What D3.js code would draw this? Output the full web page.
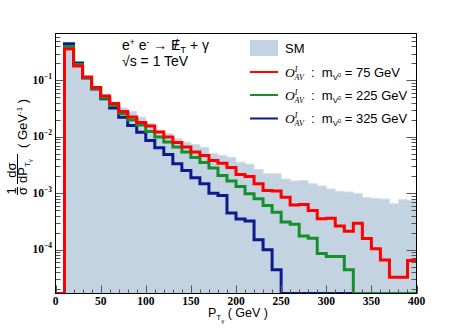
<!DOCTYPE html>
<html>
<head>
<meta charset="utf-8">
<script src="https://cdn.jsdelivr.net/npm/d3@7"></script>
<style>
  body { margin: 0; background: #fff; }
  svg { display: block; }
</style>
</head>
<body>
<div id="chart"></div>
<script>
// bin edges, 10 GeV bins from 0 to 400
const binEdges = d3.range(0, 410, 10);

// 1/sigma dsigma/dPT per bin
const smValues = [0, 0.333, 0.177, 0.118, 0.0783, 0.0565, 0.0416, 0.0325, 0.0282, 0.0223,
  0.0173, 0.0130, 0.0115, 0.00925, 0.00805, 0.00733, 0.00649, 0.00501, 0.00468, 0.00432,
  0.00356, 0.00328, 0.00264, 0.00222, 0.00222, 0.00179, 0.00165, 0.00169, 0.00147, 0.00135,
  0.00119, 0.00108, 0.00105, 0.000991, 0.000832, 0.000809, 0.000792, 0.000652, 0.000767, 0.000745];

const m75Values = [0, 0.362, 0.181, 0.115, 0.0752, 0.0531, 0.0391, 0.0282, 0.0225, 0.0180,
  0.0156, 0.0122, 0.00995, 0.00796, 0.00662, 0.00540, 0.00468, 0.00382, 0.00342, 0.00286,
  0.00215, 0.00199, 0.00147, 0.00112, 0.00110, 0.000853, 0.000621, 0.000633, 0.000495, 0.000353,
  0.000362, 0.000263, 0.000213, 0.000295, 0.000158, 0.000104, 0.0000656, 0.0000325, 0.0000325, 0.0000644];

const m225Values = [0, 0.401, 0.192, 0.113, 0.0721, 0.0490, 0.0361, 0.0260, 0.0200, 0.0163,
  0.0125, 0.00995, 0.00813, 0.00662, 0.00540, 0.00432, 0.00352, 0.00281, 0.00207, 0.00165,
  0.00132, 0.000980, 0.000798, 0.000608, 0.000462, 0.000308, 0.000283, 0.000175, 0.000160, 0.0000857,
  0.0000757, 0.0000757, 0.0000441, 0, 0, 0, 0, 0, 0, 0];

const m325Values = [0, 0.448, 0.203, 0.111, 0.0706, 0.0474, 0.0325, 0.0223, 0.0159, 0.0121,
  0.00863, 0.00641, 0.00488, 0.00333, 0.00254, 0.00188, 0.00147, 0.00100, 0.000914, 0.000448,
  0.000348, 0.000323, 0.000150, 0.0000995, 0.0000441, 0, 0, 0, 0, 0,
  0, 0, 0, 0, 0, 0, 0, 0, 0, 0];

const xTickValues = [0, 50, 100, 150, 200, 250, 300, 350, 400];
const yTickValues = [1e-4, 1e-3, 1e-2, 1e-1];
const yTickExps = ["\u22124", "\u22123", "\u22122", "\u22121"];
const legendMasses = ["75", "225", "325"];

const width = 464, height = 334;
const frame = { left: 55.5, right: 416.5, top: 33.5, bottom: 293.5 };

const colors = { sm: "#c4d3e1", m75: "#ff0000", m225: "#14902a", m325: "#0b1a8e" };
const serif = "'Liberation Serif', 'Times New Roman', serif";
const sans = "'Liberation Sans', Arial, sans-serif";
const nb = "\u00a0";

const x = d3.scaleLinear().domain([0, 400]).range([frame.left, frame.right]);
const y = d3.scaleLog().domain([1.67e-5, 0.68]).range([frame.bottom, frame.top]);
// empty bins sit on the bottom of the frame, as ROOT draws them
const yPos = v => v > 0 ? y(v) : frame.bottom;

const svg = d3.select("#chart").append("svg")
  .attr("width", width)
  .attr("height", height)
  .attr("viewBox", [0, 0, width, height]);

svg.append("defs").append("clipPath").attr("id", "plotClip")
  .append("rect")
  .attr("x", frame.left).attr("y", frame.top)
  .attr("width", frame.right - frame.left)
  .attr("height", frame.bottom - frame.top);

// rich text helper: parts with baseline shift, size, style
function rich(sel, parts) {
  let prev = 0;
  parts.forEach(p => {
    const shift = p.shift || 0;
    const ts = sel.append("tspan")
      .attr("dy", shift - prev)
      .text(p.t);
    if (p.size) ts.attr("font-size", p.size);
    if (p.family) ts.attr("font-family", p.family);
    if (p.style) ts.attr("font-style", p.style);
    if (p.dx) ts.attr("dx", p.dx);
    prev = shift;
  });
  return sel;
}

const steps = vals => {
  const pts = [];
  vals.forEach((v, i) => {
    pts.push([binEdges[i], v]);
    pts.push([binEdges[i + 1], v]);
  });
  return pts;
};

const plot = svg.append("g").attr("clip-path", "url(#plotClip)");

// SM filled histogram
const area = d3.area()
  .x(d => x(d[0]))
  .y0(frame.bottom)
  .y1(d => yPos(d[1]));

plot.append("path")
  .datum(steps(smValues))
  .attr("d", area)
  .attr("fill", colors.sm)
  .attr("stroke", "#d3dee9")
  .attr("stroke-width", 1);

const line = d3.line()
  .x(d => x(d[0]))
  .y(d => yPos(d[1]));

const series = [
  { vals: m325Values, color: colors.m325 },
  { vals: m225Values, color: colors.m225 },
  { vals: m75Values, color: colors.m75 }
];

plot.selectAll("path.hist")
  .data(series)
  .join("path")
  .attr("class", "hist")
  .attr("d", d => line(steps(d.vals)))
  .attr("fill", "none")
  .attr("stroke", d => d.color)
  .attr("stroke-width", 3)
  .attr("stroke-linejoin", "miter");

// ticks
const axes = svg.append("g").attr("stroke", "#555").attr("stroke-width", 1);

const yMinor = [];
for (let e = -5; e <= -1; e++) {
  for (let m = 1; m <= 9; m++) {
    const v = m * Math.pow(10, e);
    if (v >= y.domain()[0] && v <= y.domain()[1]) yMinor.push({ v, major: m === 1 });
  }
}

axes.selectAll("line.yl")
  .data(yMinor)
  .join("line")
  .attr("x1", frame.left)
  .attr("x2", d => frame.left + (d.major ? 10 : 5))
  .attr("y1", d => Math.round(y(d.v)) + 0.5)
  .attr("y2", d => Math.round(y(d.v)) + 0.5);

axes.selectAll("line.yr")
  .data(yMinor)
  .join("line")
  .attr("x1", frame.right)
  .attr("x2", d => frame.right - (d.major ? 10 : 5))
  .attr("y1", d => Math.round(y(d.v)) + 0.5)
  .attr("y2", d => Math.round(y(d.v)) + 0.5);

axes.selectAll("line.xt")
  .data(d3.range(0, 401, 10))
  .join("line")
  .attr("x1", d => Math.round(x(d)) + 0.5)
  .attr("x2", d => Math.round(x(d)) + 0.5)
  .attr("y1", frame.bottom)
  .attr("y2", d => frame.bottom - (d % 50 === 0 ? 8 : 4));

// frame
svg.append("rect")
  .attr("x", frame.left).attr("y", frame.top)
  .attr("width", frame.right - frame.left)
  .attr("height", frame.bottom - frame.top)
  .attr("fill", "none")
  .attr("stroke", "#000")
  .attr("stroke-width", 1);

// x tick labels
svg.append("g")
  .selectAll("text")
  .data(xTickValues)
  .join("text")
  .attr("x", d => x(d))
  .attr("y", 305)
  .attr("text-anchor", "middle")
  .attr("font-family", serif)
  .attr("font-weight", "bold")
  .attr("font-size", 11.5)
  .text(d => d);

// y tick labels
svg.append("g")
  .selectAll("text")
  .data(yTickValues)
  .join("text")
  .attr("x", 52)
  .attr("y", d => y(d) + 3.5)
  .attr("text-anchor", "end")
  .attr("font-family", serif)
  .attr("font-weight", "bold")
  .attr("font-size", 11.5)
  .each(function (d, i) {
    rich(d3.select(this), [
      { t: "10" },
      { t: yTickExps[i], shift: -5, size: 7.5 }
    ]);
  });

// x axis title
rich(svg.append("text")
  .attr("x", 208)
  .attr("y", 317)
  .attr("font-family", sans)
  .attr("font-size", 12.5), [
  { t: "P" },
  { t: "T", shift: 3, size: 8 },
  { t: "\u03b3", shift: 6, size: 6 },
  { t: nb + "(" + nb + "GeV" + nb + ")", shift: 0 }
]);

// y axis title, rotated
const yt = svg.append("g")
  .attr("transform", "translate(0,156) rotate(-90)")
  .attr("font-family", sans)
  .attr("font-size", 13)
  .attr("fill", "#000");

yt.append("text").attr("x", -35).attr("y", 15.5).attr("text-anchor", "middle").text("1");
yt.append("line").attr("x1", -39).attr("x2", -31).attr("y1", 17.5).attr("y2", 17.5)
  .attr("stroke", "#000").attr("stroke-width", 1);
yt.append("text").attr("x", -35).attr("y", 27).attr("text-anchor", "middle").text("\u03c3");

yt.append("text").attr("x", -14).attr("y", 15.5).attr("text-anchor", "middle").text("d\u03c3");
yt.append("line").attr("x1", -28).attr("x2", 2).attr("y1", 17.5).attr("y2", 17.5)
  .attr("stroke", "#000").attr("stroke-width", 1);
rich(yt.append("text").attr("x", -27).attr("y", 27), [
  { t: "dP" },
  { t: "T", shift: 3, size: 8 },
  { t: "\u03b3", shift: 5, size: 6 }
]);

rich(yt.append("text").attr("x", 8).attr("y", 27), [
  { t: "(" + nb + "GeV" },
  { t: "-1", shift: -5, size: 8 },
  { t: nb + ")", shift: 0 }
]);

// process text
const proc = svg.append("g")
  .attr("font-family", sans)
  .attr("font-size", 14);

rich(proc.append("text").attr("x", 122).attr("y", 50), [
  { t: "e" },
  { t: "+", shift: -5, size: 8.5 },
  { t: nb + "e", shift: 0 },
  { t: "-", shift: -5, size: 8.5 },
  { t: nb + "\u2192" + nb + "E", shift: 0 },
  { t: "/", shift: 0, dx: -6.5 },
  { t: "T", shift: 3, size: 9.5, dx: 2.5 },
  { t: nb + "+" + nb + "\u03b3", shift: 0 }
]);

rich(proc.append("text").attr("x", 122).attr("y", 66), [
  { t: "\u221as = 1 TeV" }
]);

// legend
const legend = svg.append("g")
  .attr("font-family", sans)
  .attr("font-size", 13);

legend.append("rect")
  .attr("x", 250).attr("y", 40)
  .attr("width", 28).attr("height", 16)
  .attr("fill", colors.sm);

legend.append("text")
  .attr("x", 285).attr("y", 53)
  .text("SM");

const legendColors = [colors.m75, colors.m225, colors.m325];
const legendY = [72, 95, 118.5];

legendMasses.forEach((m, i) => {
  legend.append("line")
    .attr("x1", 250).attr("x2", 278)
    .attr("y1", legendY[i]).attr("y2", legendY[i])
    .attr("stroke", legendColors[i])
    .attr("stroke-width", 2);

  rich(legend.append("text").attr("x", 285).attr("y", legendY[i] + 4.5), [
    { t: "O", family: serif, style: "italic", size: 13.5 },
    { t: "I", shift: -5, family: serif, style: "italic", size: 8 },
    { t: "AV", shift: 3, family: serif, style: "italic", size: 8, dx: -3 },
    { t: nb + nb + ":" + nb + nb + "m", shift: 0 },
    { t: "V", shift: 3, size: 8 },
    { t: "0", shift: 0, size: 5.5 },
    { t: nb + "=" + nb + m + nb + "GeV", shift: 0 }
  ]);
});
</script>
</body>
</html>
